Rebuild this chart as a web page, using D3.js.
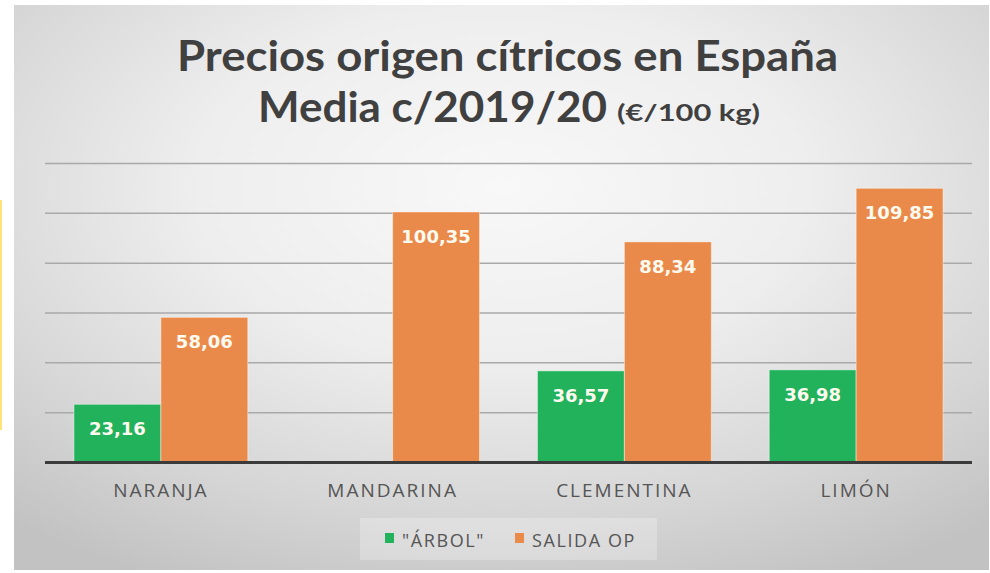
<!DOCTYPE html>
<html>
<head>
<meta charset="utf-8">
<script src="https://cdn.jsdelivr.net/npm/d3@7"></script>
<style>
  html, body { margin: 0; padding: 0; background: #ffffff; }
  svg { display: block; }
</style>
</head>
<body>
<svg id="chart" width="990" height="573"></svg>
<script>
// ---- data ----
const categories = ["NARANJA", "MANDARINA", "CLEMENTINA", "LIMÓN"];
const seriesNames = ["\"ÁRBOL\"", "SALIDA OP"];
const arbolValues = [23.16, null, 36.57, 36.98];
const salidaValues = [58.06, 100.35, 88.34, 109.85];
const yTickValues = [0, 20, 40, 60, 80, 100, 120];
const titleLine1 = "Precios origen cítricos en España";
const titleLine2 = "Media c/2019/20";
const titleUnit = "(€/100 kg)";

// ---- layout / style ----
const W = 990, H = 573;
const plot = { left: 45, right: 972, top: 163, bottom: 462 };
const colors = ["#22b25b", "#ea8a4a"];
const svg = d3.select("#chart");

const defs = svg.append("defs");
const rg = defs.append("radialGradient").attr("id", "bg")
  .attr("cx", 0.5).attr("cy", 0.32).attr("r", 0.78);
rg.append("stop").attr("offset", 0).attr("stop-color", "#f8f8f8");
rg.append("stop").attr("offset", 0.4).attr("stop-color", "#eeeeee");
rg.append("stop").attr("offset", 0.75).attr("stop-color", "#d6d6d6");
rg.append("stop").attr("offset", 1).attr("stop-color", "#c2c2c2");

// chart box
svg.append("rect").attr("x", 14).attr("y", 5).attr("width", 975).attr("height", 565)
  .attr("fill", "url(#bg)");
// yellow artefact on left edge
svg.append("rect").attr("x", 0).attr("y", 200).attr("width", 2).attr("height", 230)
  .attr("fill", "#ffe27a");

// scales
const x0 = d3.scaleBand().domain(categories).range([plot.left, plot.right]).padding(0);
const x1 = d3.scaleBand().domain(seriesNames).range([0, x0.bandwidth()])
  .paddingInner(0).paddingOuter(0.333);
const y = d3.scaleLinear().domain([0, 120]).range([plot.bottom, plot.top]);

// gridlines
const grid = svg.append("g").attr("transform", `translate(${plot.left},0)`)
  .call(d3.axisLeft(y).tickValues(yTickValues.slice(1))
    .tickSize(-(plot.right - plot.left)).tickFormat(""));
grid.select(".domain").remove();
grid.selectAll(".tick line").attr("stroke", "#a9a9a9").attr("stroke-width", 1.5);

// bars
const rows = categories.map((c, i) => ({ cat: c, vals: [arbolValues[i], salidaValues[i]] }));
const groups = svg.append("g").selectAll("g").data(rows).join("g")
  .attr("transform", d => `translate(${x0(d.cat)},0)`);

const barData = d => d.vals.map((v, j) => ({ s: seriesNames[j], v, j })).filter(e => e.v != null);
groups.selectAll("rect").data(barData).join("rect")
  .attr("x", d => x1(d.s))
  .attr("width", x1.bandwidth())
  .attr("y", d => y(d.v))
  .attr("height", d => y(0) - y(d.v))
  .attr("fill", d => colors[d.j])
  .attr("stroke", "rgba(255,255,255,0.45)")
  .attr("stroke-width", 1);

const fmt = v => d3.format(".2f")(v).replace(".", ",");
groups.selectAll("text").data(barData).join("text")
  .attr("x", d => x1(d.s) + x1.bandwidth() / 2)
  .attr("y", d => y(d.v) + 31)
  .attr("text-anchor", "middle")
  .attr("font-family", "'DejaVu Sans', Verdana, sans-serif")
  .attr("font-weight", "bold")
  .attr("font-size", 18)
  .attr("fill", "#fffaf0")
  .text(d => fmt(d.v));

// baseline
svg.append("line").attr("x1", plot.left).attr("x2", plot.right)
  .attr("y1", y(0) + 0.5).attr("y2", y(0) + 0.5)
  .attr("stroke", "#3b3b3b").attr("stroke-width", 3);

// category axis labels
const xAxis = svg.append("g").attr("transform", `translate(0,${plot.bottom})`)
  .call(d3.axisBottom(x0).tickSize(0).tickPadding(0));
xAxis.select(".domain").remove();
xAxis.selectAll("text")
  .attr("y", 35).attr("dy", 0)
  .attr("font-family", "'Open Sans', sans-serif")
  .attr("font-size", 19)
  .attr("letter-spacing", "2px")
  .attr("fill", "#555555");

// title
const tFont = "Lato, 'Open Sans', sans-serif";
const t1 = svg.append("text").attr("x", 177).attr("y", 71)
  .attr("font-family", tFont).attr("font-weight", "bold").attr("font-size", 42)
  .attr("fill", "#404040").attr("textLength", 661).attr("lengthAdjust", "spacingAndGlyphs")
  .text(titleLine1);
svg.append("text").attr("x", 258).attr("y", 122)
  .attr("font-family", tFont).attr("font-weight", "bold").attr("font-size", 42)
  .attr("fill", "#404040").attr("textLength", 349).attr("lengthAdjust", "spacingAndGlyphs")
  .text(titleLine2);
svg.append("text").attr("x", 617).attr("y", 121)
  .attr("font-family", tFont).attr("font-weight", "bold").attr("font-size", 23)
  .attr("fill", "#404040").attr("textLength", 143).attr("lengthAdjust", "spacingAndGlyphs")
  .text(titleUnit);

// legend
svg.append("rect").attr("x", 360).attr("y", 518).attr("width", 297).attr("height", 42)
  .attr("fill", "rgba(255,255,255,0.25)");
const legendX = [385, 515];
const lg = svg.append("g").selectAll("g").data(seriesNames).join("g")
  .attr("transform", (d, i) => `translate(${legendX[i]},533)`);
lg.append("rect").attr("width", 9).attr("height", 10).attr("fill", (d, i) => colors[i]);
lg.append("text").attr("x", 17).attr("y", 13.5)
  .attr("font-family", "'Open Sans', sans-serif").attr("font-size", 18)
  .attr("letter-spacing", "1.6px")
  .attr("fill", "#555555").text(d => d);
</script>
</body>
</html>
